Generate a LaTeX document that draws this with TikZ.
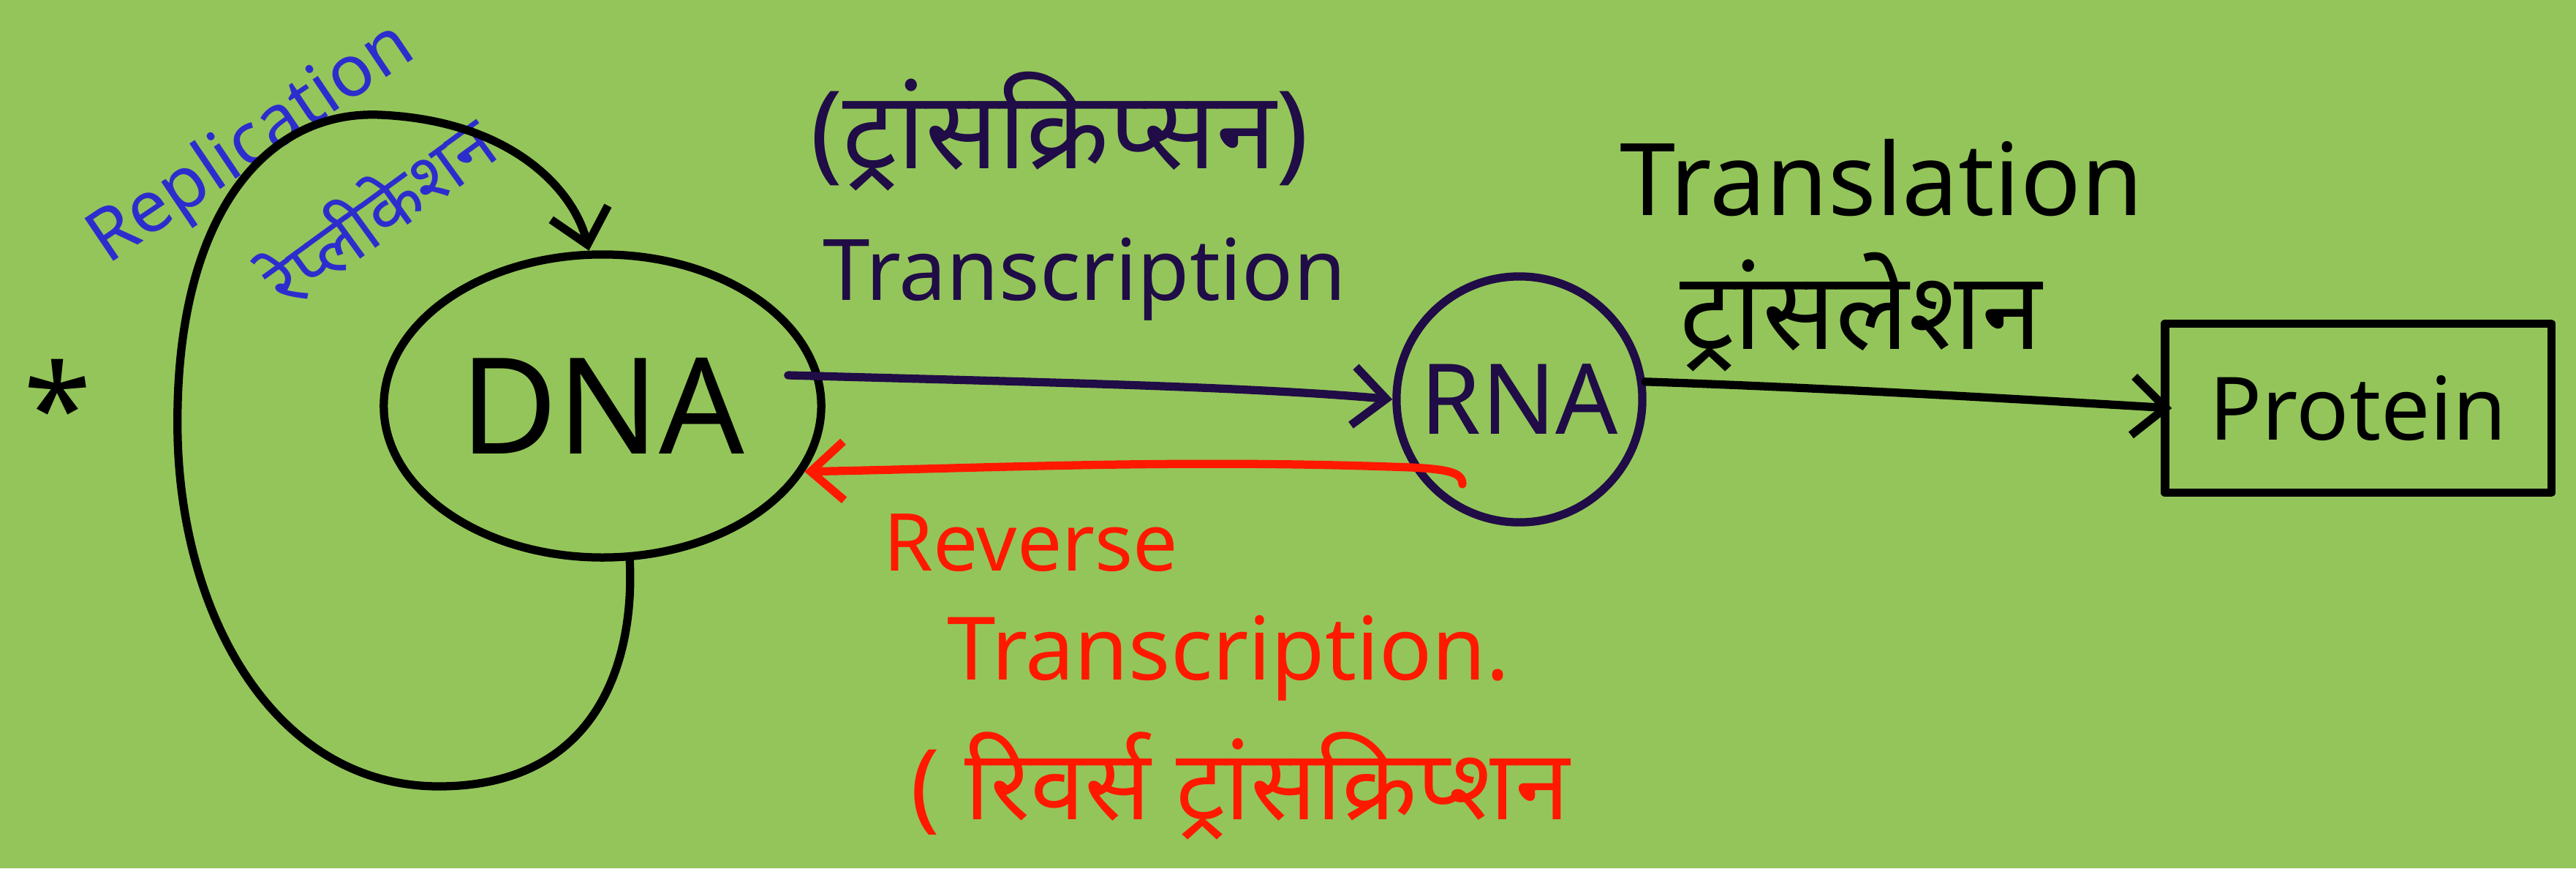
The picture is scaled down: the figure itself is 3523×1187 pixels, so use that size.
\documentclass[tikz,border=0pt]{standalone}
\usepackage{fontspec}
\setmainfont{Noto Sans}
\newfontfamily\dev[Script=Devanagari]{Noto Sans}
\usetikzlibrary{arrows.meta,shapes.geometric}
\definecolor{bg}{RGB}{148,197,90}
\definecolor{navy}{RGB}{32,12,70}
\definecolor{rblue}{RGB}{45,45,205}
\definecolor{rred}{RGB}{255,25,0}
\begin{document}
\begin{tikzpicture}[x=0.01cm,y=-0.01cm, line cap=round, line join=round,
  pen/.style={line width=3.2pt},
  tip/.style={-{Straight Barb[length=0.45cm,width=0.8cm]}},
  lbl/.style={inner sep=0pt, anchor=center}]
\fill[bg] (0,0) rectangle (3523,1187);
\useasboundingbox (0,0) rectangle (3523,1187);
% nodes
\node[ellipse, draw, pen, minimum width=5.98cm, minimum height=4.14cm,
      font=\fontsize{52}{60}\selectfont] (dna) at (824,555) {DNA};
\node[circle, draw=navy, text=navy, pen, minimum size=3.36cm,
      font=\fontsize{38}{44}\selectfont] (rna) at (2078,546) {RNA};
\node[draw, pen, minimum width=5.28cm, minimum height=2.31cm,
      font=\fontsize{34}{40}\selectfont] (prot) at (3225,558) {Protein};
\node[lbl, font=\fontsize{48}{48}\selectfont\bfseries] (star) at (79,555) {*};
% labels
\node[lbl, rblue, rotate=34, font=\fontsize{28}{32}\selectfont] (replab) at (345,198) {Replication};
\node[lbl, rblue, rotate=36, font=\dev\fontsize{28}{32}\selectfont] (replhi) at (515,285) {रेप्लीकेशन};
\node[lbl, navy, font=\dev\fontsize{42}{48}\selectfont] (trhi) at (1449,180) {(ट्रांसक्रिप्सन)};
\node[lbl, navy, font=\fontsize{33}{40}\selectfont] (tren) at (1483,382) {Transcription};
\node[lbl, font=\fontsize{39}{46}\selectfont] (tlen) at (2573,243) {Translation};
\node[lbl, font=\dev\fontsize{42}{48}\selectfont] (tlhi) at (2545,427) {ट्रांसलेशन};
\node[lbl, rred, font=\fontsize{31}{36}\selectfont] (rev1) at (1410,742) {Reverse};
\node[lbl, rred, font=\fontsize{34}{40}\selectfont] (rev2) at (1680,900) {Transcription.};
\node[lbl, rred, font=\dev\fontsize{38}{44}\selectfont] (rev3) at (1696,1074) {( रिवर्स ट्रांसक्रिप्शन};
% connectors
\coordinate (l1) at (600,1075);
\coordinate (l2) at (243,600);
\coordinate (l3) at (520,157);
\draw[pen, tip] (dna.-80) .. controls (868,900) and (820,1075) .. (l1)
   .. controls (380,1075) and (250,850) .. (l2)
   .. controls (236,300) and (360,150) .. (l3)
   .. controls (700,165) and (785,260) .. (dna.95);
\draw[pen, navy, tip] ([xshift=-0.45cm]dna.8) .. controls (1400,522) and (1700,528) .. (rna.west);
\coordinate (rs) at (2000,662);
\draw[pen, rred, tip] (rs) .. controls (2000,645) and (1980,640) .. (1900,638)
   .. controls (1600,628) and (1350,640) .. (dna.-18);
\draw[pen, tip] (rna.8) .. controls (2500,530) and (2800,548) .. ([xshift=0.15cm]prot.west);
\end{tikzpicture}
\end{document}
